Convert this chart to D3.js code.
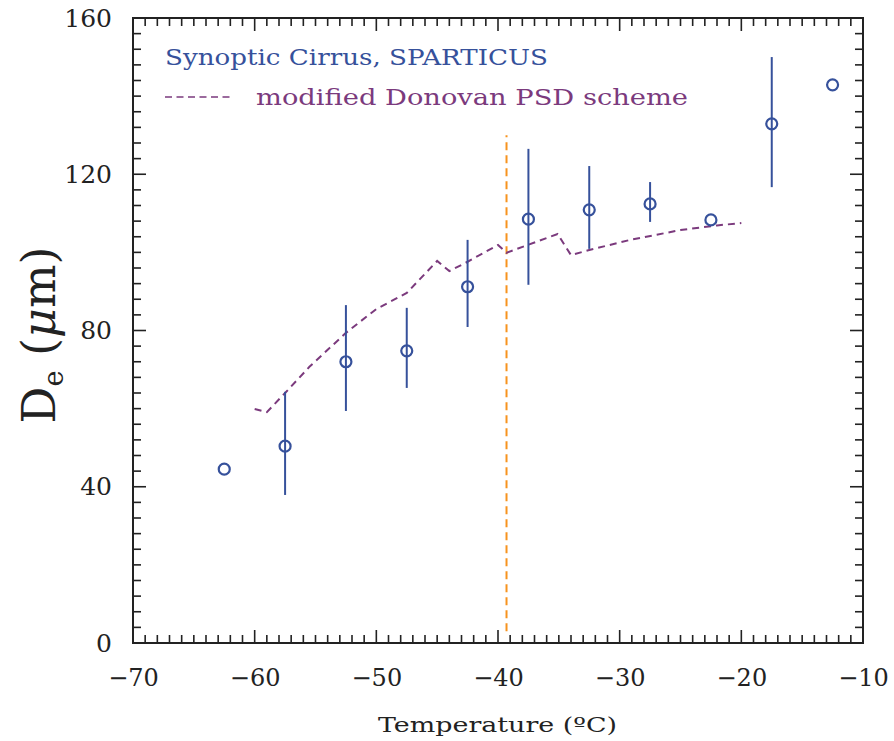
<!DOCTYPE html>
<html>
<head>
<meta charset="utf-8">
<script src="https://cdn.jsdelivr.net/npm/d3@7"></script>
<style>
  body { margin: 0; background: #fff; }
  svg { display: block; }
</style>
</head>
<body>
<div id="chart"></div>
<script>
// SPARTICUS synoptic cirrus bins (temperature centre, De, error bar low/high)
const binTemps = [-62.5, -57.5, -52.5, -47.5, -42.5, -37.5, -32.5, -27.5, -22.5, -17.5, -12.5];
const deMean   = [44.5, 50.4, 72.0, 74.8, 91.2, 108.5, 110.9, 112.4, 108.3, 132.9, 142.9];
const deLow    = [null, 37.9, 59.4, 65.3, 80.9, 91.7, 100.9, 107.8, null, 116.7, null];
const deHigh   = [null, 64.3, 86.5, 85.8, 103.2, 126.5, 122.1, 118.0, null, 150.0, null];

// modified Donovan PSD scheme curve
const modelTemps = [-60, -59, -57.5, -55.5, -52.5, -50, -47.5, -45, -44, -42.5, -40, -39.3, -35.1, -34, -32.5, -29, -25, -22, -20];
const modelDe    = [59.9, 59.1, 64.0, 70.7, 79.4, 85.5, 89.6, 97.8, 95.2, 97.6, 101.9, 99.9, 104.7, 99.3, 100.6, 103.3, 105.7, 106.9, 107.5];

// vertical marker
const markerTemp = -39.3;
const markerRange = [3, 130];

const xTicks = [-70, -60, -50, -40, -30, -20, -10];
const yTicks = [0, 40, 80, 120, 160];

const width = 894, height = 741;
const margin = { top: 18, right: 31, bottom: 98, left: 133 };
const innerWidth = width - margin.left - margin.right;
const innerHeight = height - margin.top - margin.bottom;

const blue = "#36519b", purple = "#7b3a7d", orange = "#f7931e";

const svg = d3.select("#chart").append("svg")
  .attr("width", width).attr("height", height);

const g = svg.append("g").attr("transform", `translate(${margin.left},${margin.top})`);

const x = d3.scaleLinear().domain([-70, -10]).range([0, innerWidth]);
const y = d3.scaleLinear().domain([0, 160]).range([innerHeight, 0]);

// minor/major ticks on all four sides
const xMinor = d3.range(-70, -10 + 0.5, 1);
const yMinor = d3.range(0, 160 + 0.5, 4);
const ticksG = g.append("g").attr("stroke", "#222").attr("stroke-width", 1.6);
xMinor.forEach(v => {
  const len = v % 10 === 0 ? 13 : 8;
  ticksG.append("line").attr("x1", x(v)).attr("x2", x(v)).attr("y1", innerHeight).attr("y2", innerHeight - len);
  ticksG.append("line").attr("x1", x(v)).attr("x2", x(v)).attr("y1", 0).attr("y2", len);
});
yMinor.forEach(v => {
  const len = v % 40 === 0 ? 13 : 8;
  ticksG.append("line").attr("y1", y(v)).attr("y2", y(v)).attr("x1", 0).attr("x2", len);
  ticksG.append("line").attr("y1", y(v)).attr("y2", y(v)).attr("x1", innerWidth).attr("x2", innerWidth - len);
});

// frame
g.append("rect").attr("width", innerWidth).attr("height", innerHeight)
  .attr("fill", "none").attr("stroke", "#222").attr("stroke-width", 2);

// tick labels
const xAxis = g.append("g").attr("transform", `translate(0,${innerHeight})`)
  .call(d3.axisBottom(x).tickValues(xTicks).tickSize(0).tickPadding(26)
    .tickFormat(d => "\u2212" + Math.abs(d)));
xAxis.select(".domain").remove();
xAxis.selectAll("text").attr("font-family", "DejaVu Serif").attr("font-size", 24).attr("fill", "#222");

const yAxis = g.append("g")
  .call(d3.axisLeft(y).tickValues(yTicks).tickSize(0).tickPadding(21));
yAxis.select(".domain").remove();
yAxis.selectAll("text").attr("font-family", "DejaVu Serif").attr("font-size", 25).attr("fill", "#222");

// axis titles
svg.append("text")
  .attr("x", 378).attr("y", 732)
  .attr("textLength", 239).attr("lengthAdjust", "spacingAndGlyphs")
  .attr("font-family", "DejaVu Serif").attr("font-size", 21).attr("fill", "#222")
  .text("Temperature (ºC)");

const yt = svg.append("text")
  .attr("transform", `translate(55,335) rotate(-90)`)
  .attr("text-anchor", "middle")
  .attr("font-family", "DejaVu Serif").attr("font-size", 46).attr("fill", "#222");
yt.append("tspan").text("D");
yt.append("tspan").attr("font-size", 27).attr("dy", 8).text("e");
yt.append("tspan").attr("dy", -8).text(" (");
yt.append("tspan").attr("font-style", "italic").text("μ");
yt.append("tspan").text("m)");

// vertical orange dashed marker
g.append("line")
  .attr("x1", x(markerTemp)).attr("x2", x(markerTemp))
  .attr("y1", y(markerRange[0])).attr("y2", y(markerRange[1]))
  .attr("stroke", orange).attr("stroke-width", 2).attr("stroke-dasharray", "8,5");

// model curve
const line = d3.line().x(d => x(d[0])).y(d => y(d[1]));
g.append("path")
  .datum(modelTemps.map((t, i) => [t, modelDe[i]]))
  .attr("d", line)
  .attr("fill", "none").attr("stroke", purple).attr("stroke-width", 2)
  .attr("stroke-dasharray", "7,5");

// error bars
const obs = binTemps.map((t, i) => ({ t, m: deMean[i], lo: deLow[i], hi: deHigh[i] }));
g.append("g").selectAll("line").data(obs.filter(d => d.lo !== null)).join("line")
  .attr("x1", d => x(d.t)).attr("x2", d => x(d.t))
  .attr("y1", d => y(d.lo)).attr("y2", d => y(d.hi))
  .attr("stroke", blue).attr("stroke-width", 2);

// points
g.append("g").selectAll("circle").data(obs).join("circle")
  .attr("cx", d => x(d.t)).attr("cy", d => y(d.m)).attr("r", 5.5)
  .attr("fill", "none").attr("stroke", blue).attr("stroke-width", 2.2);

// legend
svg.append("text").attr("x", 165).attr("y", 65)
  .attr("textLength", 383).attr("lengthAdjust", "spacingAndGlyphs")
  .attr("font-family", "DejaVu Serif").attr("font-size", 23).attr("fill", blue)
  .text("Synoptic Cirrus, SPARTICUS");
svg.append("line").attr("x1", 165).attr("x2", 232).attr("y1", 97).attr("y2", 97)
  .attr("stroke", purple).attr("stroke-width", 1.6).attr("stroke-dasharray", "7,4.5");
svg.append("text").attr("x", 256).attr("y", 105)
  .attr("textLength", 432).attr("lengthAdjust", "spacingAndGlyphs")
  .attr("font-family", "DejaVu Serif").attr("font-size", 23).attr("fill", purple)
  .text("modified Donovan PSD scheme");
</script>
</body>
</html>
